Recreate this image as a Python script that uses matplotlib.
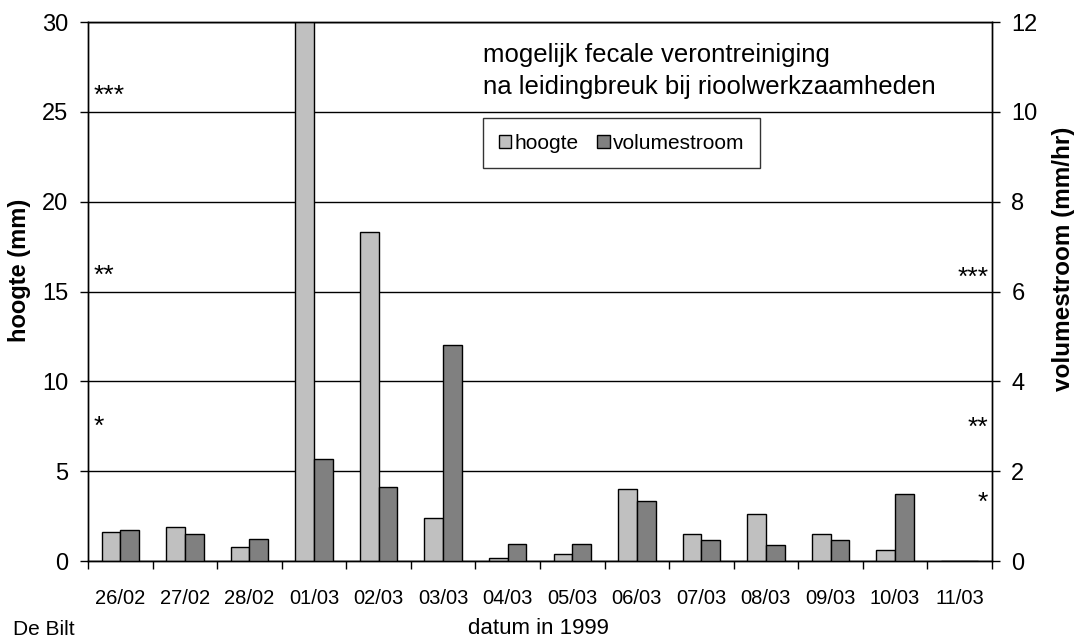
import numpy as np
import matplotlib
matplotlib.use("Agg")
import matplotlib.pyplot as plt

plt.rcParams['font.family'] = ['Liberation Sans', 'DejaVu Sans']

dates = ["26/02", "27/02", "28/02", "01/03", "02/03", "03/03", "04/03",
         "05/03", "06/03", "07/03", "08/03", "09/03", "10/03", "11/03"]
hoogte = [1.6, 1.9, 0.8, 30.0, 18.3, 2.4, 0.2, 0.4, 4.0, 1.5, 2.6, 1.5, 0.6, 0.0]
volumestroom = [0.70, 0.61, 0.49, 2.28, 1.66, 4.8, 0.39, 0.39, 1.33, 0.46, 0.36, 0.47, 1.5, 0.0]

left_ticks = [0, 5, 10, 15, 20, 25, 30]
right_ticks = [0, 2, 4, 6, 8, 10, 12]

fig = plt.figure(figsize=(10.77, 6.42), dpi=100)
ax = fig.add_axes([0.0817, 0.126, 0.8393, 0.8397])
ax2 = ax.twinx()

x = np.arange(len(dates))
w = 0.29
light, dark = "#c0c0c0", "#808080"

ax.bar(x - w / 2, hoogte, w, color=light, edgecolor="black", linewidth=1.0,
       label="hoogte", zorder=3)
ax2.bar(x + w / 2, volumestroom, w, color=dark, edgecolor="black", linewidth=1.0,
        label="volumestroom", zorder=3)

ax.set_xlim(-0.5, len(dates) - 0.5)
ax.set_ylim(0, 30)
ax2.set_ylim(0, 12)
ax.set_yticks(left_ticks)
ax2.set_yticks(right_ticks)
ax.yaxis.grid(True, color="black", linewidth=1.0, zorder=0)
ax.set_axisbelow(True)

# category labels centred, tick marks at the group boundaries
ax.set_xticks(x)
ax.set_xticklabels(dates, fontsize=14.5)
ax.tick_params(axis="x", length=0, pad=20)
ax.set_xticks(np.arange(len(dates) + 1) - 0.5, minor=True)
ax.tick_params(axis="x", which="minor", length=6, width=1.0, direction="out")

ax.tick_params(axis="y", labelsize=17, length=6, width=1.0, direction="out", pad=8)
ax2.tick_params(axis="y", labelsize=17, length=6, width=1.0, direction="out", pad=8)

for a in (ax, ax2):
    for s in a.spines.values():
        s.set_linewidth(1.0)

ax.set_ylabel("hoogte (mm)", fontsize=17, fontweight="bold")
ax.yaxis.set_label_coords(-0.063, 0.54)
ax2.set_ylabel("volumestroom (mm/hr)", fontsize=17.5, fontweight="bold")
ax2.yaxis.set_label_coords(1.067, 0.56)

fig.text(0.5, 0.004, "datum in 1999", fontsize=16, ha="center", va="bottom")
fig.text(0.012, 0.004, "De Bilt", fontsize=15, ha="left", va="bottom")

# significance markers
ytr = ax.get_yaxis_transform()
ytr2 = ax2.get_yaxis_transform()
ax.text(0.006, 25.5, "***", fontsize=19, ha="left", va="baseline", transform=ytr)
ax.text(0.006, 15.5, "**", fontsize=19, ha="left", va="baseline", transform=ytr)
ax.text(0.006, 7.1, "*", fontsize=19, ha="left", va="baseline", transform=ytr)
ax2.text(0.996, 6.14, "***", fontsize=19, ha="right", va="baseline", transform=ytr2)
ax2.text(0.996, 2.80, "**", fontsize=19, ha="right", va="baseline", transform=ytr2)
ax2.text(0.996, 1.15, "*", fontsize=19, ha="right", va="baseline", transform=ytr2)

ax.text(0.437, 0.939, "mogelijk fecale verontreiniging", fontsize=18.5,
        ha="left", va="center", transform=ax.transAxes)
ax.text(0.437, 0.879, "na leidingbreuk bij rioolwerkzaamheden", fontsize=18.5,
        ha="left", va="center", transform=ax.transAxes)

h1, l1 = ax.get_legend_handles_labels()
h2, l2 = ax2.get_legend_handles_labels()
leg = ax2.legend(h1 + h2, l1 + l2, loc="upper left", bbox_to_anchor=(0.437, 0.822),
                 borderaxespad=0, fontsize=15, frameon=True, fancybox=False,
                 edgecolor="black", handlelength=0.6, handleheight=0.6,
                 handletextpad=0.15, columnspacing=0.9, ncol=2, borderpad=0.75)
leg.get_frame().set_linewidth(1.0)

fig.savefig("out.png", dpi=100)
